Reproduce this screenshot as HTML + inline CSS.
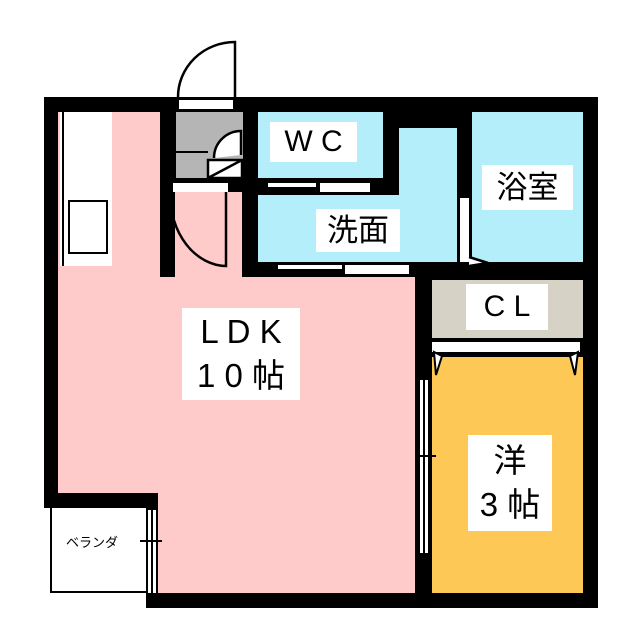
<!DOCTYPE html>
<html><head><meta charset="utf-8"><style>
body{margin:0;width:640px;height:640px;background:#fff;position:relative;overflow:hidden;font-family:"Liberation Sans","Noto Sans CJK JP",sans-serif}
div{position:absolute;box-sizing:border-box}
.k{background:#000}.w{background:#fff}
.b{background:#b3eefa}.p{background:#ffcaca}
.t{background:#fff;color:#000;text-align:center;line-height:1.1}
</style></head><body>
<div class="k" style="left:44px;top:97px;width:554px;height:511px"></div>
<div class="p" style="left:58px;top:112px;width:102px;height:381px"></div>
<div class="p" style="left:58px;top:277px;width:357px;height:216px"></div>
<div class="p" style="left:158px;top:493px;width:257px;height:100px"></div>
<div class="p" style="left:175px;top:192px;width:67px;height:90px"></div>
<div class="w" style="left:60px;top:112px;width:52px;height:154px"></div>
<div style="left:62px;top:112px;width:2px;height:154px;background:#000"></div>
<div style="left:68px;top:200px;width:40px;height:54px;border:2px solid #000;background:#fff"></div>
<div style="left:176px;top:112px;width:67px;height:66px;background:#b5b5b5"></div>
<div style="left:176px;top:151px;width:32px;height:2px;background:#000"></div>
<div class="w" style="left:179px;top:100px;width:54px;height:9px"></div>
<div class="w" style="left:173px;top:183px;width:55px;height:9px"></div>
<div class="b" style="left:258px;top:112px;width:125px;height:66px"></div>
<div class="w" style="left:268px;top:183px;width:48px;height:4px"></div>
<div class="w" style="left:320px;top:183px;width:50px;height:9px"></div>
<div class="b" style="left:258px;top:195px;width:159px;height:67px"></div>
<div class="b" style="left:399px;top:128px;width:58px;height:134px"></div>
<div class="w" style="left:278px;top:265px;width:64px;height:4px"></div>
<div class="w" style="left:345px;top:265px;width:64px;height:9px"></div>
<div class="b" style="left:472px;top:112px;width:111px;height:150px"></div>
<div class="w" style="left:460px;top:198px;width:9px;height:64px"></div>
<div style="left:432px;top:280px;width:151px;height:58px;background:#d6d3c6"></div>
<div class="w" style="left:432px;top:342px;width:148px;height:10px"></div>
<div style="left:432px;top:357px;width:151px;height:236px;background:#fec857"></div>
<div class="w" style="left:418px;top:380px;width:12px;height:173px;border-left:2px solid #000;border-right:2px solid #000"></div>
<div style="left:423px;top:380px;width:2px;height:173px;background:#000"></div>
<!-- balcony -->
<div class="w" style="left:44px;top:508px;width:102px;height:100px"></div>
<div style="left:50px;top:508px;width:96px;height:85px;border:2px solid #000;border-top:none;border-right:none"></div>
<div class="w" style="left:146px;top:510px;width:12px;height:83px;border-left:2px solid #000;border-right:2px solid #000"></div>
<div style="left:151px;top:510px;width:2px;height:83px;background:#000"></div>
<div style="left:140px;top:540px;width:22px;height:2px;background:#000"></div>
<div style="left:416px;top:455px;width:20px;height:2px;background:#000"></div>
<svg width="640" height="640" style="position:absolute;left:0;top:0" fill="none" stroke="#000" stroke-width="2.5">
<path d="M235 97 V42 A57 55 0 0 0 178 97"/>
<path d="M226 192 V266 A57 72 0 0 1 170 194"/>
<path d="M241 155 V131 A27 27 0 0 0 214 158 M208 160 H242 V178 H208 Z M208 178 L242 160" fill="#fff"/>
<path d="M469 257 L488 263 L469 266" fill="#fff"/>
<path d="M434 352 L436 375 L442 356 Z M578 352 L575 375 L570 356 Z" fill="#fff" stroke-width="2"/>
</svg>
<div class="t" style="left:270px;top:122px;width:87px;height:40px;font-size:30px;line-height:40px">W C</div>
<div class="t" style="left:482px;top:165px;width:91px;height:45px;font-size:31px;line-height:45px">浴室</div>
<div class="t" style="left:316px;top:209px;width:84px;height:43px;font-size:31px;line-height:43px">洗面</div>
<div class="t" style="left:466px;top:284px;width:82px;height:46px;font-size:30px;line-height:46px">C L</div>
<div class="t" style="left:182px;top:308px;width:118px;height:92px;font-size:33px;line-height:44px;padding-top:2px">L D K<br>1 0 帖</div>
<div class="t" style="left:468px;top:435px;width:84px;height:96px;font-size:33px;line-height:44px;padding-top:4px">洋<br>3 帖</div>
<div style="left:66px;top:532px;font-size:13px">ベランダ</div>
</body></html>
